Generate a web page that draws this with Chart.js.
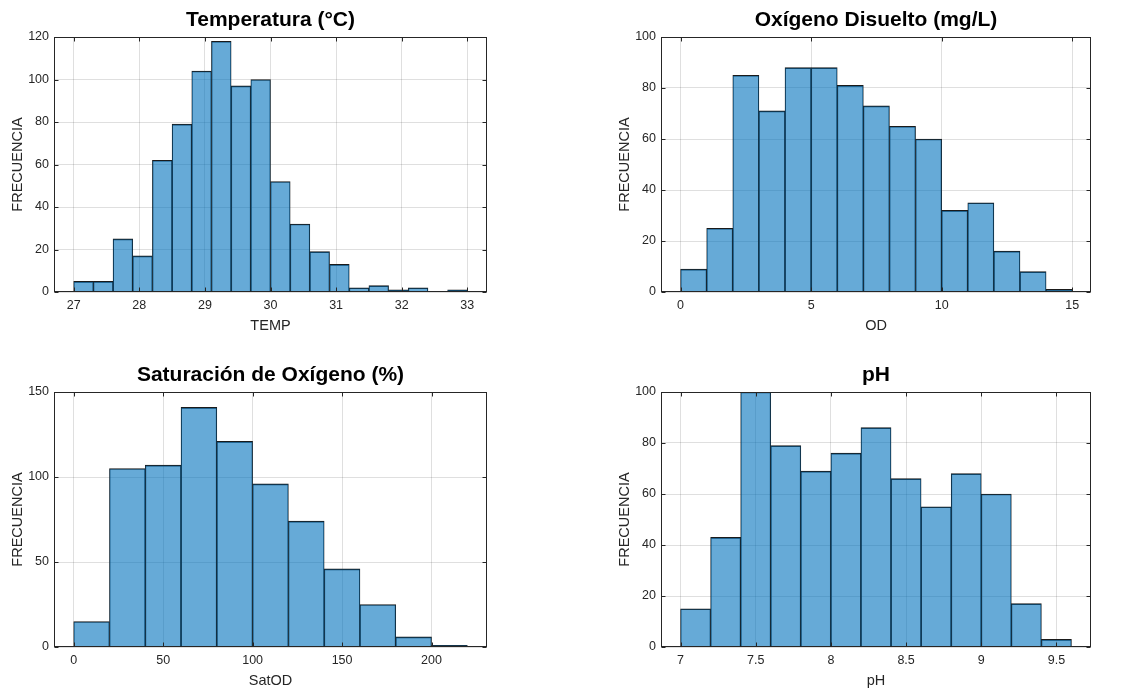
<!DOCTYPE html>
<html>
<head>
<meta charset="utf-8">
<title>Histogramas</title>
<script src="https://cdn.jsdelivr.net/npm/chart.js@4.4.1/dist/chart.umd.min.js"></script>
<style>
  html, body { margin: 0; padding: 0; background: #fff; overflow: hidden; }
  canvas { position: absolute; }
</style>
</head>
<body>
<canvas id="chartTemp" width="567" height="345" style="left:0px;top:0px"></canvas>
<canvas id="chartOD" width="567" height="345" style="left:567px;top:0px"></canvas>
<canvas id="chartSat" width="567" height="345" style="left:0px;top:345px"></canvas>
<canvas id="chartPH" width="567" height="345" style="left:567px;top:345px"></canvas>
<script>
const FONT_FAMILY = '"Liberation Sans", Arial, Helvetica, sans-serif';
const BAR_FILL = 'rgba(0, 114, 189, 0.6)';
const BAR_EDGE = '#1a1a1a';
const AXIS_COLOR = '#262626';
const GRID_COLOR = 'rgba(38, 38, 38, 0.15)';
const TITLE_SIZE = 21;
const LABEL_SIZE = 14.5;
const TICK_SIZE = 12.5;
const TICK_LEN = 4;

// Temperatura (°C)
const tempBinEdges = [27, 27.3, 27.6, 27.9, 28.2, 28.5, 28.8, 29.1, 29.4, 29.7, 30,
  30.3, 30.6, 30.9, 31.2, 31.5, 31.8, 32.1, 32.4, 32.7, 33];
const tempCounts = [5, 5, 25, 17, 62, 79, 104, 118, 97, 100, 52, 32, 19, 13, 2, 3, 1, 2, 0, 1];
const tempXTicks = [27, 28, 29, 30, 31, 32, 33];
const tempYTicks = [0, 20, 40, 60, 80, 100, 120];

// Oxígeno disuelto (mg/L)
const odBinEdges = [0, 1, 2, 3, 4, 5, 6, 7, 8, 9, 10, 11, 12, 13, 14, 15];
const odCounts = [9, 25, 85, 71, 88, 88, 81, 73, 65, 60, 32, 35, 16, 8, 1];
const odXTicks = [0, 5, 10, 15];
const odYTicks = [0, 20, 40, 60, 80, 100];

// Saturación de oxígeno (%)
const satBinEdges = [0, 20, 40, 60, 80, 100, 120, 140, 160, 180, 200, 220];
const satCounts = [15, 105, 107, 141, 121, 96, 74, 46, 25, 6, 1];
const satXTicks = [0, 50, 100, 150, 200];
const satYTicks = [0, 50, 100, 150];

// pH
const phBinEdges = [7, 7.2, 7.4, 7.6, 7.8, 8, 8.2, 8.4, 8.6, 8.8, 9, 9.2, 9.4, 9.6];
const phCounts = [15, 43, 100, 79, 69, 76, 86, 66, 55, 68, 60, 17, 3];
const phXTicks = [7, 7.5, 8, 8.5, 9, 9.5];
const phYTicks = [0, 20, 40, 60, 80, 100];

const panels = [
  {
    id: 'chartTemp', title: 'Temperatura (°C)', xLabel: 'TEMP',
    edges: tempBinEdges, counts: tempCounts, xTicks: tempXTicks, yTicks: tempYTicks,
    xMin: 26.7, xMax: 33.3, yMax: 120,
    box: {left: 0, top: 0, width: 567, height: 345},
    area: {left: 54, top: 37, right: 487, bottom: 292},
  },
  {
    id: 'chartOD', title: 'Oxígeno Disuelto (mg/L)', xLabel: 'OD',
    edges: odBinEdges, counts: odCounts, xTicks: odXTicks, yTicks: odYTicks,
    xMin: -0.75, xMax: 15.72, yMax: 100,
    box: {left: 567, top: 0, width: 567, height: 345},
    area: {left: 661, top: 37, right: 1091, bottom: 292},
  },
  {
    id: 'chartSat', title: 'Saturación de Oxígeno (%)', xLabel: 'SatOD',
    edges: satBinEdges, counts: satCounts, xTicks: satXTicks, yTicks: satYTicks,
    xMin: -11, xMax: 231, yMax: 150,
    box: {left: 0, top: 345, width: 567, height: 345},
    area: {left: 54, top: 392, right: 487, bottom: 647},
  },
  {
    id: 'chartPH', title: 'pH', xLabel: 'pH',
    edges: phBinEdges, counts: phCounts, xTicks: phXTicks, yTicks: phYTicks,
    xMin: 6.87, xMax: 9.73, yMax: 100,
    box: {left: 567, top: 345, width: 567, height: 345},
    area: {left: 661, top: 392, right: 1091, bottom: 647},
  },
];

/**
 * Draws the MATLAB style box around the axes with inward tick marks.
 */
const matlabBox = {
  id: 'matlabBox',
  afterDatasetsDraw(chart) {
    const {ctx, chartArea: a, scales: {x, y}} = chart;
    const l = Math.round(a.left) + 0.5;
    const r = Math.round(a.right) - 0.5;
    const t = Math.round(a.top) + 0.5;
    const b = Math.round(a.bottom) - 0.5;
    ctx.save();
    ctx.strokeStyle = AXIS_COLOR;
    ctx.lineWidth = 1;
    ctx.beginPath();
    x.ticks.forEach((tick) => {
      const px = Math.round(x.getPixelForValue(tick.value)) + 0.5;
      ctx.moveTo(px, b);
      ctx.lineTo(px, b - TICK_LEN);
      ctx.moveTo(px, t);
      ctx.lineTo(px, t + TICK_LEN);
    });
    y.ticks.forEach((tick) => {
      const py = Math.round(y.getPixelForValue(tick.value)) + 0.5;
      ctx.moveTo(l, py);
      ctx.lineTo(l + TICK_LEN, py);
      ctx.moveTo(r, py);
      ctx.lineTo(r - TICK_LEN, py);
    });
    ctx.stroke();
    ctx.strokeRect(l, t, r - l, b - t);
    ctx.restore();
  },
};

/**
 * Builds one histogram panel.
 * @param {Object} p The panel description.
 */
function buildChart(p) {
  const yAxisWidth = p.area.left - p.box.left;
  const xAxisHeight = p.box.top + p.box.height - p.area.bottom;
  const titleBlock = p.area.top - p.box.top;
  const titleLineHeight = TITLE_SIZE * 1.2;
  const labelLineHeight = LABEL_SIZE * 1.2;

  const points = p.counts.map((c, i) => ({x: (p.edges[i] + p.edges[i + 1]) / 2, y: c}));

  new Chart(document.getElementById(p.id), {
    type: 'bar',
    data: {
      datasets: [{
        data: points,
        backgroundColor: BAR_FILL,
        borderColor: BAR_EDGE,
        borderWidth: {top: 1, left: 0.6, right: 0.6, bottom: 0},
        borderSkipped: false,
        barPercentage: 1,
        categoryPercentage: 1,
      }],
    },
    options: {
      responsive: false,
      animation: false,
      layout: {
        padding: {left: 0, top: 0, bottom: 0, right: p.box.left + p.box.width - p.area.right},
      },
      plugins: {
        legend: {display: false},
        tooltip: {enabled: false},
        title: {
          display: true,
          text: p.title,
          fullSize: false,
          color: '#000',
          font: {family: FONT_FAMILY, size: TITLE_SIZE, weight: 'bold'},
          padding: {top: titleBlock - titleLineHeight - 4, bottom: 4},
        },
      },
      scales: {
        x: {
          type: 'linear',
          min: p.xMin,
          max: p.xMax,
          offset: false,
          grid: {offset: false, color: GRID_COLOR, drawTicks: false},
          border: {display: false},
          ticks: {
            color: AXIS_COLOR,
            padding: 6,
            maxRotation: 0,
            autoSkip: false,
            font: {family: FONT_FAMILY, size: TICK_SIZE},
            callback: (v) => String(v),
          },
          afterBuildTicks: (s) => {
            s.ticks = p.xTicks.map((v) => ({value: v}));
          },
          afterFit: (s) => {
            s.height = xAxisHeight;
          },
          title: {
            display: true,
            text: p.xLabel,
            color: AXIS_COLOR,
            font: {family: FONT_FAMILY, size: LABEL_SIZE},
            padding: {top: 0, bottom: xAxisHeight - 33.5 - labelLineHeight / 2},
          },
        },
        y: {
          min: 0,
          max: p.yMax,
          grid: {color: GRID_COLOR, drawTicks: false},
          border: {display: false},
          ticks: {
            color: AXIS_COLOR,
            padding: 5,
            font: {family: FONT_FAMILY, size: TICK_SIZE},
            callback: (v) => String(v),
          },
          afterBuildTicks: (s) => {
            s.ticks = p.yTicks.map((v) => ({value: v}));
          },
          afterFit: (s) => {
            s.width = yAxisWidth;
          },
          title: {
            display: true,
            text: 'FRECUENCIA',
            color: AXIS_COLOR,
            font: {family: FONT_FAMILY, size: LABEL_SIZE},
            padding: {top: yAxisWidth - 36 - labelLineHeight / 2, bottom: 0},
          },
        },
      },
    },
    plugins: [matlabBox],
  });
}

panels.forEach(buildChart);
</script>
</body>
</html>
